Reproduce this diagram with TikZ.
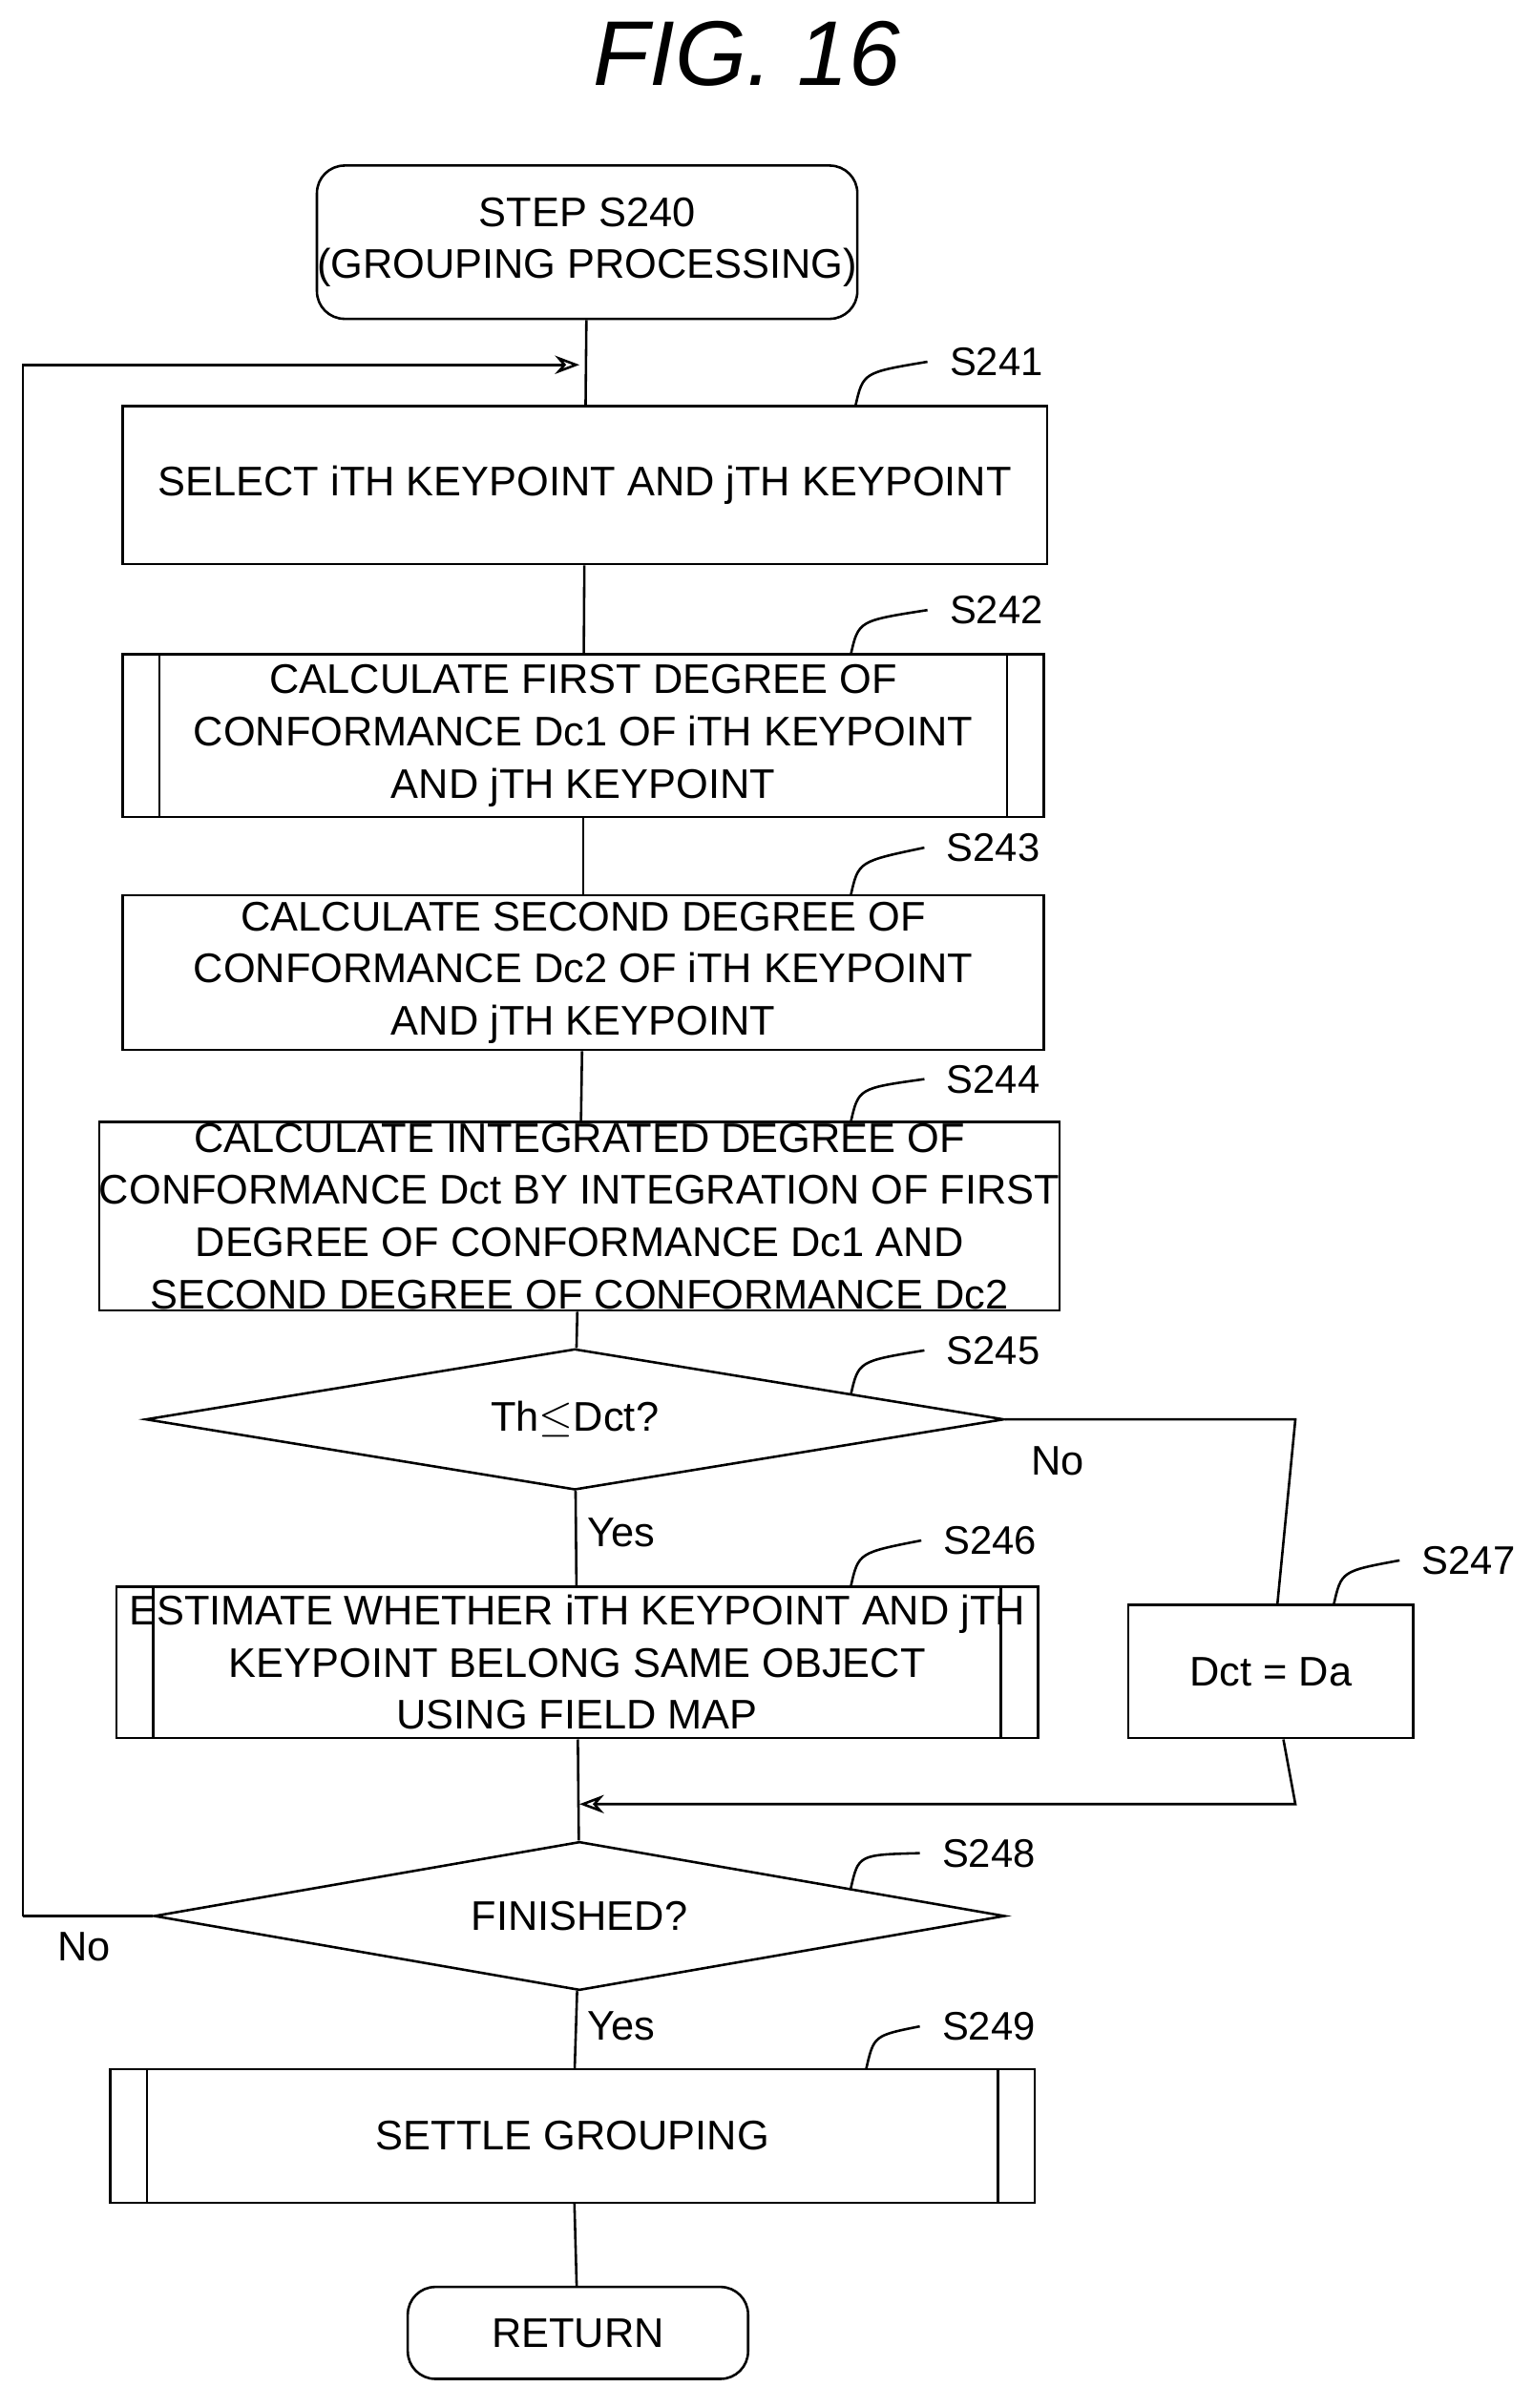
\documentclass[tikz,border=0pt]{standalone}
\usepackage{fontspec}
\setmainfont{Liberation Sans}
\usetikzlibrary{shapes.geometric,arrows.meta}
\tikzset{
  box/.style={draw,thick,rectangle,align=center,inner sep=0pt},
  pbox/.style={box,path picture={
      \draw[thick] ([xshift=12pt]path picture bounding box.north west) -- ([xshift=12pt]path picture bounding box.south west);
      \draw[thick] ([xshift=-12pt]path picture bounding box.north east) -- ([xshift=-12pt]path picture bounding box.south east);}},
  term/.style={box,rounded corners=9pt},
  dec/.style={draw,thick,diamond,aspect=6,inner sep=0pt},
  lab/.style={font=\fontsize{13}{15}\selectfont},
  tick/.style={thick},
  line/.style={thick},
  arr/.style={thick,-{Stealth[length=8pt,width=6pt,open]}}
}
\begin{document}
\begin{tikzpicture}[x=0.5pt,y=-0.5pt,font=\fontsize{13.5}{17}\selectfont]
\useasboundingbox (0,0) rectangle (1000,1571);
\node (title) at (487,35) {\fontsize{30}{34}\selectfont\itshape FIG. 16};
% start
\node[term,minimum width=162pt,minimum height=50pt] (s240) at (383,158) {STEP S240\\(GROUPING PROCESSING)};
\node[box,minimum width=301.5pt,minimum height=51.5pt] (s241) at (381.5,316.5) {SELECT iTH KEYPOINT AND jTH KEYPOINT};
\node[pbox,minimum width=300.5pt,minimum height=53pt] (s242) at (380.5,480) {CALCULATE FIRST DEGREE OF\\CONFORMANCE Dc1 OF iTH KEYPOINT\\AND jTH KEYPOINT};
\node[box,minimum width=300.5pt,minimum height=50.5pt] (s243) at (380.5,634.5) {CALCULATE SECOND DEGREE OF\\CONFORMANCE Dc2 OF iTH KEYPOINT\\AND jTH KEYPOINT};
\node[box,minimum width=302pt,minimum height=61.5pt] (s244) at (378,793.5) {CALCULATE INTEGRATED DEGREE OF\\CONFORMANCE Dct BY INTEGRATION OF FIRST\\DEGREE OF CONFORMANCE Dc1 AND\\SECOND DEGREE OF CONFORMANCE Dc2};
\node[dec,minimum width=280pt,minimum height=46pt] (s245) at (375,926) {Th$\leq$Dct?};
\node[pbox,minimum width=300.5pt,minimum height=49.5pt] (s246) at (376.5,1084.5) {ESTIMATE WHETHER iTH KEYPOINT AND jTH\\KEYPOINT BELONG SAME OBJECT\\USING FIELD MAP};
\node[box,minimum width=93pt,minimum height=43.5pt] (s247) at (829,1090.5) {Dct = Da};
\node[dec,minimum width=277.5pt,minimum height=48.5pt] (s248) at (378,1250) {FINISHED?};
\node[pbox,minimum width=301.5pt,minimum height=43.5pt] (s249) at (373.5,1393.5) {SETTLE GROUPING};
\node[term,minimum width=111pt,minimum height=30pt] (ret) at (377,1522) {RETURN};
% connectors
\coordinate (top) at (378,238);
\coordinate (loop1) at (15,1250);
\coordinate (loop2) at (15,238);
\coordinate (nocorner) at (845,926);
\coordinate (merge1) at (845,1177);
\coordinate (merge2) at (378,1177);
\draw[line] (s240) -- (s241);
\draw[arr] (loop1) -- (loop2) -- (top);
\draw[line] (s241) -- (s242);
\draw[line] (s242) -- (s243);
\draw[line] (s243) -- (s244);
\draw[line] (s244) -- (s245);
\draw[line] (s245) -- (s246);
\draw[line] (s245.east) -- (nocorner) -- (s247);
\draw[line] (s246) -- (s248);
\draw[arr] (s247) -- (merge1) -- (merge2);
\draw[line] (s248.west) -- (loop1);
\draw[line] (s248) -- (s249);
\draw[line] (s249) -- (ret);
\node (no1) at (690,953) {No};
\node (yes1) at (405,1000) {Yes};
\node (no2) at (55,1270) {No};
\node (yes2) at (405,1322) {Yes};
% step labels
\foreach \name/\x/\y/\sx/\sy in {S241/650/236/558/265, S242/650/398/555/427, S243/648/553/555/584,
    S244/648/704/555/732, S245/648/881/555/910, S246/646/1005/555/1035, S247/958/1018/870/1047,
    S248/645/1209/555/1232, S249/645/1322/565/1350}{
  \node[lab] (l\name) at (\x,\y) {\name};
  \draw[tick] (\sx,\sy) .. controls (\sx+5,\sy-22) .. (\x-45,\y);
}
\end{tikzpicture}
\end{document}
